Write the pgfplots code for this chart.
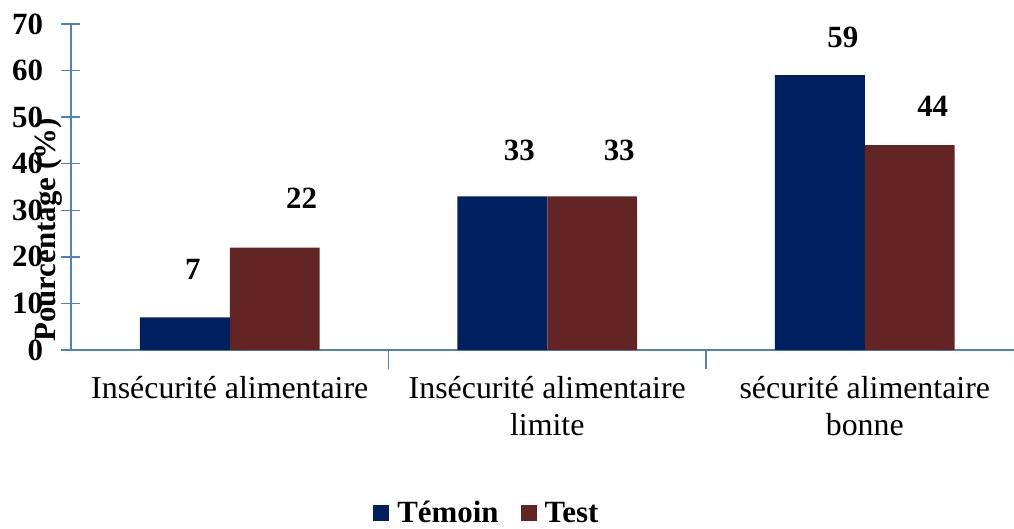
\documentclass[border=0pt]{standalone}
\usepackage{fontspec}
\setmainfont{Liberation Serif}
\usepackage{pgfplots}
\pgfplotsset{compat=1.18}
\definecolor{temoin}{RGB}{0,32,96}
\definecolor{test}{RGB}{99,37,35}
\definecolor{axisblue}{RGB}{79,129,189}
\begin{document}
\begin{tikzpicture}
\begin{axis}[
  scale only axis, width=943bp, height=326bp,
  ymin=0, ymax=70, ytick={0,10,...,70},
  xmin=-0.5, xmax=2.47,
  axis x line=bottom, axis y line=left,
  axis line style={axisblue, line width=1.5bp, -},
  tick style={axisblue, line width=1.5bp},
  tick align=center, major tick length=19bp,
  /pgf/number format/assume math mode=true,
  yticklabel style={font=\fontsize{31}{36}\selectfont\bfseries, anchor=east, xshift=-15bp},
  xtick={0.5,1.5}, xticklabels={},
  extra x ticks={0,1,2},
  extra x tick labels={Insécurité alimentaire, Insécurité alimentaire\\limite, sécurité alimentaire\\bonne},
  extra x tick style={major tick length=0pt, tick style={draw=none},
    ticklabel style={font=\fontsize{32}{37}\selectfont, align=center, anchor=north, yshift=-23bp}},
  ylabel={\textbf{Pourcentage (\%)}},
  ylabel style={font=\fontsize{31}{36}\selectfont, at={(axis description cs:-0.0244,0.368)}, anchor=center, rotate=0},
  ybar=0pt, bar width=0.283,
  visualization depends on={\thisrow{dx} \as \dx},
  visualization depends on={\thisrow{dy} \as \dy},
  nodes near coords,
  nodes near coords style={font=\fontsize{31}{36}\selectfont\bfseries, anchor=center,
    xshift=\dx bp, yshift=\dy bp, text=black},
  legend style={at={(axis description cs:0.441,-0.5)}, anchor=center, draw=none,
    legend columns=2, font=\fontsize{31}{36}\selectfont\bfseries,
    /tikz/every even column/.append style={column sep=20bp}},
  legend image code/.code={\fill[#1] (0bp,-8bp) rectangle (16bp,8bp); \path (22bp,0bp);},
]
\addplot[fill=temoin, draw=none] table[x=x, y=y] {
x y dx dy
0 7 8 48
1 33 17 46
2 59 23 38
};
\addplot[fill=test, draw=none] table[x=x, y=y] {
x y dx dy
0 22 27 49
1 33 27 46
2 44 23 39
};
\legend{Témoin, Test}
\end{axis}
\pgfresetboundingbox
\path[use as bounding box] (-71bp,-179bp) rectangle (943bp,350bp);
\end{tikzpicture}
\end{document}
